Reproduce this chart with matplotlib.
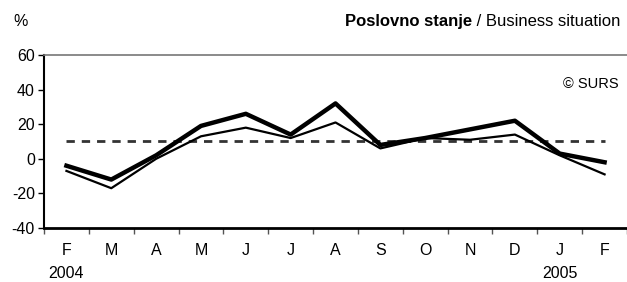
import matplotlib.pyplot as plt

months = ["F", "M", "A", "M", "J", "J", "A", "S", "O", "N", "D", "J", "F"]
years = {0: "2004", 11: "2005"}
business_situation = [-4, -12, 2, 19, 26, 14, 32, 8, 12, 17, 22, 3, -2]
business_situation_thin = [-7, -17, 0, 13, 18, 12, 21, 6, 12, 11, 14, 2, -9]
long_term_avg = [10] * len(months)

plt.rcParams["font.family"] = ["Liberation Sans", "DejaVu Sans"]
plt.rcParams["axes.unicode_minus"] = False

fig = plt.figure(figsize=(6.27, 2.82), dpi=100)
ax = fig.add_axes([0.0702, 0.1915, 0.9298, 0.6135])

x = list(range(len(months)))
ax.plot(x, long_term_avg, color="#333333", linewidth=2.0, linestyle=(0, (3, 2.5)))
ax.plot(x, business_situation_thin, color="black", linewidth=1.6)
ax.plot(x, business_situation, color="black", linewidth=3.2, solid_joinstyle="round")

ax.set_xlim(-0.5, len(months) - 0.5)
ax.set_ylim(-40, 60)
ax.set_yticks(range(-40, 61, 20))
ax.set_xticks([i - 0.5 for i in range(len(months) + 1)])
ax.set_xticklabels([])
ax.set_xticks(x, minor=True)
ax.set_xticklabels(months, minor=True)
ax.tick_params(axis="x", which="minor", length=0, pad=11, labelsize=11.5)
ax.tick_params(axis="x", which="major", length=4, width=1, color="#555555", direction="out")
ax.tick_params(axis="y", length=4.5, width=1, labelsize=11.5, pad=2)

ax.spines["right"].set_visible(False)
ax.spines["top"].set_color("#777777")
ax.spines["top"].set_linewidth(1.2)
ax.spines["left"].set_linewidth(1.5)
ax.spines["bottom"].set_linewidth(2)

for i, yr in years.items():
    ax.text(i, -0.22, yr, transform=ax.get_xaxis_transform(), ha="center", va="top", fontsize=11.5)

fig.text(0.032, 0.925, "%", ha="center", va="center", fontsize=11.5)
title = fig.text(0.99, 0.925, " / Business situation", ha="right", va="center", fontsize=12)
fig.canvas.draw()
bb = title.get_window_extent()
fig.text(bb.x0 / fig.bbox.width, 0.925, "Poslovno stanje", ha="right", va="center",
         fontsize=12, fontweight="bold")

ax.text(0.985, 0.83, "© SURS", transform=ax.transAxes, ha="right", va="center", fontsize=10.5)

fig.savefig("out.png", dpi=100)
